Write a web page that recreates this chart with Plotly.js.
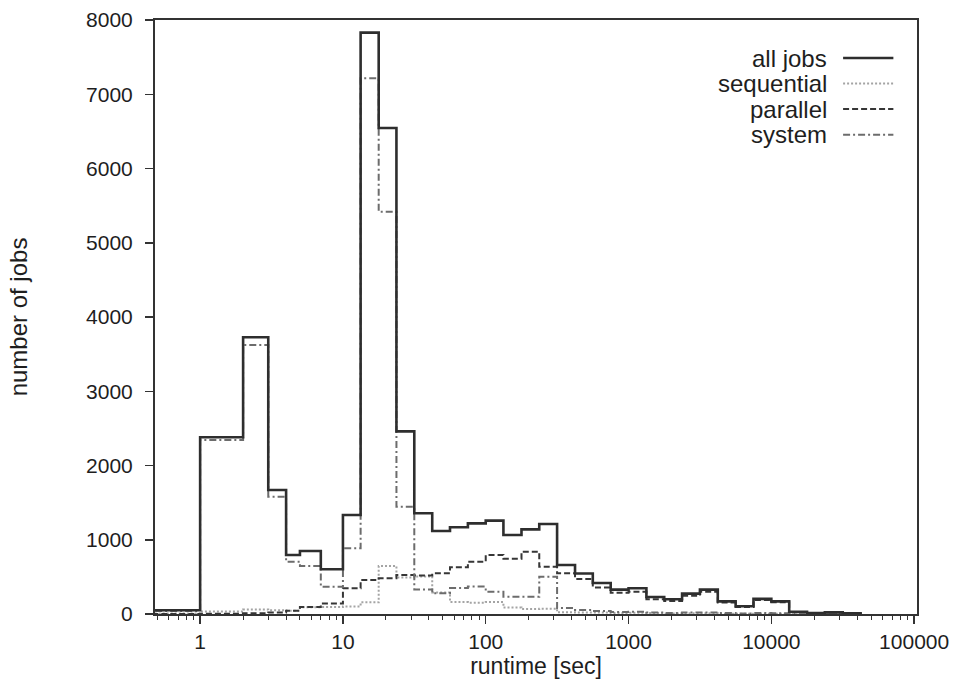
<!DOCTYPE html>
<html>
<head>
<meta charset="utf-8">
<script src="https://cdn.plot.ly/plotly-3.0.1.min.js"></script>
<style>
  html, body { margin: 0; padding: 0; background: #ffffff; }
  #chart { width: 966px; height: 686px; }
</style>
</head>
<body>
<div id="chart"></div>
<script>
// Runtime bins in seconds: every left edge, then the last right edge
const binEdges = [0.4, 1, 2, 3, 4, 5, 7,
  10, 13.3, 17.8, 23.7, 31.6, 42.2, 56.2, 75, 100, 133, 178, 237, 316, 422, 562, 750,
  1000, 1334, 1778, 2371, 3162, 4217, 5623, 7499, 10000, 13335, 17783, 23714, 31623, 42170];

// Number of jobs per bin
const allJobs = [50, 2380, 3727, 1670, 795, 848, 602,
  1333, 7830, 6545, 2460, 1356, 1118, 1168, 1221, 1257, 1064, 1140, 1212, 660, 545, 418, 328,
  346, 229, 198, 274, 328, 170, 104, 204, 170, 31, 12, 22, 8];
const sequentialJobs = [8, 32, 60, 50, 45, 90, 94,
  102, 157, 647, 490, 506, 290, 160, 150, 160, 86, 67, 72, 22, 20, 20, 15,
  16, 12, 7, 9, 10, 3, 3, 4, 2, 1, 0, 0, 0];
const parallelJobs = [0, 5, 10, 20, 45, 95, 140,
  346, 458, 481, 525, 520, 548, 629, 704, 795, 745, 840, 637, 548, 470, 358, 285,
  300, 197, 176, 245, 298, 155, 93, 188, 158, 27, 10, 20, 7];
const systemJobs = [42, 2343, 3623, 1580, 705, 646, 368,
  885, 7215, 5417, 1445, 330, 280, 350, 370, 300, 233, 233, 503, 80, 55, 40, 28,
  30, 20, 15, 20, 20, 12, 8, 12, 10, 3, 2, 2, 1];

const seriesNames = ['all jobs', 'sequential', 'parallel', 'system'];

// Decade tick labels on the runtime axis
const runtimeTicks = [1, 10, 100, 1000, 10000, 100000];
const runtimeTickText = ['1', '10', '100', '1000', '10000', '100000'];

// Turn bin counts into a closed step outline (rise at the first edge, fall at the last)
function stepOutline(edges, counts) {
  const xs = [edges[0]];
  const ys = [0];
  for (let i = 0; i < counts.length; i++) {
    xs.push(edges[i]);
    ys.push(counts[i]);
  }
  xs.push(edges[edges.length - 1]);
  ys.push(0);
  return { x: xs, y: ys };
}

const styles = {
  'all jobs':   { color: '#2e2e2e', width: 2.6, dash: 'solid' },
  'sequential': { color: '#a4a4a4', width: 2.0, dash: '2px,2px' },
  'parallel':   { color: '#363636', width: 2.0, dash: '6px,3px' },
  'system':     { color: '#6c6c6c', width: 2.0, dash: '7px,3px,2px,3px' }
};

const countsByName = {
  'all jobs': allJobs,
  'sequential': sequentialJobs,
  'parallel': parallelJobs,
  'system': systemJobs
};

// draw the breakdown first so the total outline sits on top
const drawOrder = ['sequential', 'parallel', 'system', 'all jobs'];
const traces = drawOrder.map(name => {
  const s = stepOutline(binEdges, countsByName[name]);
  return {
    type: 'scatter',
    mode: 'lines',
    name: name,
    x: s.x,
    y: s.y,
    line: { shape: 'hv', color: styles[name].color, width: styles[name].width, dash: styles[name].dash },
    showlegend: false,
    hoverinfo: 'skip'
  };
});

// Legend: labels right-aligned with a line sample on their right
const legendRowsY = [0.936, 0.893, 0.850, 0.807];
const annotations = [];
const shapes = [];
seriesNames.forEach((name, i) => {
  annotations.push({
    xref: 'paper', yref: 'paper',
    x: 0.884, y: legendRowsY[i],
    xanchor: 'right', yanchor: 'middle',
    text: name, showarrow: false,
    font: { family: 'Liberation Sans, Arial, sans-serif', size: 24, color: '#1e1e1e' }
  });
  shapes.push({
    type: 'line', xref: 'paper', yref: 'paper',
    x0: 0.903, x1: 0.969, y0: legendRowsY[i], y1: legendRowsY[i],
    line: { color: styles[name].color, width: styles[name].width, dash: styles[name].dash }
  });
});

const axisFont = { family: 'Liberation Sans, Arial, sans-serif', size: 21, color: '#1e1e1e' };

const layout = {
  width: 966,
  height: 686,
  margin: { l: 155, r: 49, t: 20, b: 72 },
  paper_bgcolor: '#ffffff',
  plot_bgcolor: '#ffffff',
  showlegend: false,
  xaxis: {
    type: 'log',
    range: [-0.316, 5.02],
    tickmode: 'array',
    tickvals: runtimeTicks,
    ticktext: runtimeTickText,
    ticks: 'outside',
    ticklen: 8,
    tickwidth: 1.5,
    tickcolor: '#333333',
    minor: { dtick: 'D1', ticks: 'outside', ticklen: 4, tickwidth: 1, tickcolor: '#333333', showgrid: false },
    showline: true,
    linecolor: '#333333',
    linewidth: 2,
    mirror: true,
    showgrid: false,
    zeroline: false,
    tickfont: axisFont,
    title: { text: 'runtime [sec]', font: { family: 'Liberation Sans, Arial, sans-serif', size: 23, color: '#1e1e1e' }, standoff: 2 },
    automargin: false
  },
  yaxis: {
    range: [0, 8000],
    dtick: 1000,
    ticks: 'outside',
    ticklen: 8,
    tickwidth: 1.5,
    tickcolor: '#333333',
    ticklabelstandoff: 8,
    showline: true,
    linecolor: '#333333',
    linewidth: 2,
    mirror: true,
    showgrid: false,
    zeroline: false,
    tickfont: axisFont,
    title: { text: 'number of jobs', font: { family: 'Liberation Sans, Arial, sans-serif', size: 24, color: '#1e1e1e' }, standoff: 52 },
    automargin: false
  },
  annotations: annotations,
  shapes: shapes
};

Plotly.newPlot('chart', traces, layout, { staticPlot: true, displayModeBar: false });
</script>
</body>
</html>
